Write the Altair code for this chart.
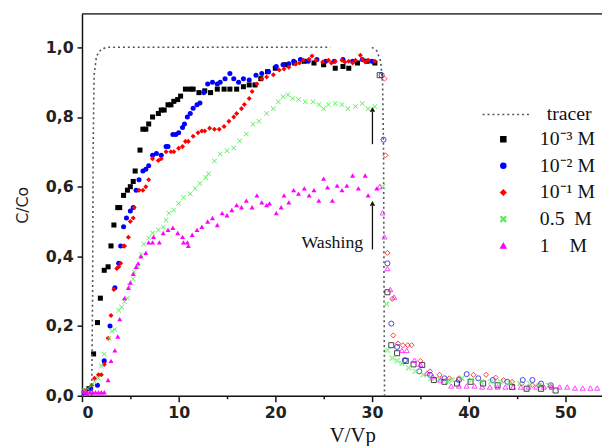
import altair as alt
import pandas as pd

# ---------------- data ----------------
SERIES = ["10\u207b\u00b3 M", "10\u207b\u00b2 M", "10\u207b\u00b9 M", "0.5\u00a0\u00a0M", "1\u00a0\u00a0\u00a0\u00a0M"]
COLORS = ["#000000", "#0000ff", "#ff0000", "#55ee55", "#ff00ff"]
XPATH = "M-1,-0.8L-0.8,-1L0,-0.2L0.8,-1L1,-0.8L0.2,0L1,0.8L0.8,1L0,0.2L-0.8,1L-1,0.8L-0.2,0Z"
SHAPES = ["square", "circle", "diamond", XPATH, "triangle-up"]
SIZES = [26, 26, 45, 45, 45]

black_fill = [(0.3,0.01),(0.7,0.02),(1.2,0.12),(1.6,0.21),(1.9,0.28),(2.3,0.36),(2.7,0.37),(3.0,0.43),
              (3.3,0.49),(3.7,0.54),(3.9,0.54),(4.3,0.575),(4.7,0.59),(5.0,0.60),(5.3,0.615),(5.5,0.645),
              (6.0,0.705),(6.3,0.765),(6.6,0.765),(6.9,0.78),(7.3,0.80),(7.9,0.81),(8.2,0.82),(8.5,0.82),
              (8.9,0.835),(9.2,0.835),(9.5,0.845),(9.9,0.85),(10.2,0.86),(10.7,0.88),(11.2,0.88),(11.5,0.88),
              (12.1,0.87),(12.7,0.875),(13.3,0.87),(14.0,0.88),(14.7,0.88),(15.3,0.88),(16.0,0.88),(16.7,0.887),
              (17.3,0.892),(17.9,0.892),(18.5,0.91),(19.2,0.93),(20.0,0.94),(21.0,0.95),(22.0,0.955),(23.0,0.96),
              (24.0,0.955),(25.0,0.95),(26.2,0.94),(27.0,0.945),(27.6,0.94),(28.5,0.955),(29.5,0.96),(30.3,0.955)]
blue_fill = [(0.2,0.01),(0.9,0.02),(1.6,0.03),(2.3,0.10),(2.9,0.20),(3.4,0.31),(3.8,0.38),(4.0,0.43),
             (4.3,0.485),(4.6,0.51),(5.0,0.53),(5.3,0.54),(5.6,0.59),(5.9,0.62),(6.3,0.645),(6.6,0.65),
             (6.9,0.66),(7.3,0.69),(7.7,0.695),(8.2,0.69),(8.7,0.715),(8.9,0.715),(9.4,0.75),(9.7,0.75),
             (10.0,0.755),(10.4,0.77),(10.6,0.78),(10.9,0.80),(11.2,0.81),(11.5,0.825),(11.9,0.835),(12.2,0.84),
             (12.6,0.87),(13.0,0.895),(13.5,0.90),(14.0,0.895),(14.3,0.90),(14.8,0.91),(15.3,0.925),(15.7,0.91),
             (16.2,0.90),(16.7,0.91),(17.3,0.906),(18.0,0.92),(18.6,0.925),(19.3,0.93),(20.1,0.945),(20.8,0.95),
             (21.4,0.953),(21.9,0.96),(22.6,0.965),(23.4,0.96),(24.3,0.965),(25.2,0.96),(26.1,0.96),(27.0,0.965),
             (28.0,0.96),(29.0,0.965),(30.0,0.96)]
red_fill = [(0.3,0.015),(1.0,0.03),(1.3,0.05),(1.7,0.06),(2.0,0.06),(2.3,0.09),(2.7,0.165),(3.0,0.23),
            (3.3,0.305),(3.6,0.365),(3.8,0.37),(4.0,0.38),(4.3,0.43),(4.4,0.43),(4.8,0.455),(5.0,0.50),
            (5.3,0.51),(5.4,0.54),(5.9,0.59),(6.3,0.59),(6.6,0.60),(6.9,0.62),(7.3,0.68),(7.9,0.675),
            (8.2,0.68),(8.7,0.70),(9.2,0.70),(9.5,0.70),(10.0,0.71),(10.4,0.715),(10.7,0.73),(11.0,0.73),
            (11.5,0.745),(12.0,0.755),(12.4,0.76),(12.7,0.76),(13.2,0.768),(13.7,0.765),(14.2,0.765),(14.7,0.773),
            (15.2,0.788),(15.7,0.80),(16.0,0.81),(16.5,0.824),(16.8,0.836),(17.3,0.853),(17.6,0.873),(18.1,0.895),
            (18.6,0.909),(19.1,0.915),(19.8,0.921),(20.4,0.935),(20.9,0.938),(21.4,0.943),(22.1,0.952),(22.5,0.955),
            (22.9,0.963),(23.5,0.966),(23.8,0.975),(24.2,0.963),(24.9,0.958),(25.5,0.963),(25.8,0.955),(26.2,0.96),
            (26.9,0.963),(27.2,0.958),(27.6,0.96),(28.0,0.955),(28.3,0.963),(28.8,0.977),(29.0,0.966),(29.3,0.958),
            (29.6,0.963),(30.3,0.96)]
green_fill = [(0.2,0.015),(0.6,0.02),(1.0,0.03),(1.3,0.04),(1.7,0.05),(2.0,0.085),(2.3,0.12),(2.8,0.165),
              (3.1,0.185),(3.4,0.19),(3.8,0.245),(4.1,0.255),(4.4,0.27),(4.7,0.28),(4.9,0.315),(5.3,0.335),
              (5.4,0.355),(5.8,0.37),(6.1,0.405),(6.4,0.435),(6.9,0.453),(7.3,0.467),(7.9,0.476),(8.4,0.484),
              (8.7,0.504),(9.0,0.524),(9.5,0.533),(10.0,0.552),(10.5,0.569),(11.2,0.58),(11.7,0.595),(12.2,0.609),
              (12.8,0.626),(13.1,0.637),(13.7,0.674),(14.3,0.694),(15.0,0.703),(15.7,0.711),(16.3,0.731),(17.0,0.751),
              (17.7,0.779),(18.3,0.788),(19.1,0.81),(19.8,0.824),(20.3,0.844),(20.8,0.858),(21.3,0.864),(21.8,0.853),
              (22.4,0.85),(23.1,0.844),(23.9,0.844),(24.5,0.836),(25.0,0.824),(25.5,0.836),(26.2,0.839),(26.9,0.836),
              (27.5,0.824),(28.3,0.83),(29.0,0.839),(29.6,0.824),(30.3,0.83)]
magenta_fill = [(0.2,0.01),(0.5,0.01),(0.8,0.01),(1.1,0.01),(1.4,0.01),(1.7,0.01),(2.0,0.01),(2.3,0.01),
                (2.7,0.045),(3.0,0.10),(3.4,0.13),(3.7,0.17),(3.9,0.22),(4.4,0.28),(4.8,0.31),(5.0,0.325),
                (5.3,0.35),(5.6,0.37),(5.8,0.38),(6.1,0.40),(6.6,0.41),(6.9,0.44),(7.3,0.44),(7.4,0.456),
                (8.0,0.44),(8.4,0.467),(8.9,0.476),(9.4,0.482),(9.9,0.467),(10.4,0.456),(10.5,0.44),(10.9,0.44),
                (11.0,0.43),(11.4,0.462),(11.9,0.476),(12.4,0.485),(13.0,0.50),(13.5,0.51),(14.0,0.49),(14.5,0.524),
                (15.0,0.518),(15.5,0.533),(16.0,0.547),(16.5,0.541),(17.0,0.56),(17.6,0.541),(18.1,0.575),(18.6,0.555),
                (19.1,0.547),(19.4,0.552),(20.1,0.524),(20.6,0.541),(20.9,0.575),(21.4,0.555),(21.9,0.59),(22.4,0.58),
                (23.0,0.595),(23.5,0.575),(24.0,0.59),(24.5,0.56),(25.0,0.623),(25.4,0.598),(25.9,0.56),(26.4,0.603),
                (26.9,0.59),(27.4,0.603),(28.0,0.632),(28.6,0.595),(29.3,0.632),(29.6,0.575),(30.5,0.595)]

black_wash = [(30.8,0.92),(31.6,0.297),(32.0,0.145),(32.6,0.122),(33.5,0.10),(34.3,0.09),(35.2,0.088),
              (36.4,0.045),(37.5,0.04),(38.8,0.035),(40.2,0.04),(41.5,0.035),(43.0,0.03),(44.5,0.025),
              (46.0,0.02),(47.5,0.02),(49.0,0.015)]
blue_wash = [(31.0,0.92),(31.2,0.735),(31.6,0.38),(32.0,0.207),(32.6,0.14),(33.4,0.102),(34.9,0.07),
             (36.0,0.06),(37.5,0.05),(39.0,0.045),(39.8,0.062),(41.0,0.05),(42.5,0.045),(44.0,0.04),
             (45.6,0.045),(46.6,0.045),(47.5,0.035),(48.5,0.03)]
red_wash = [(31.3,0.91),(31.4,0.69),(31.6,0.41),(32.1,0.278),(32.2,0.173),(32.7,0.15),(33.2,0.145),
            (33.7,0.145),(34.1,0.145),(35.0,0.10),(36.0,0.07),(37.0,0.06),(38.0,0.05),(39.0,0.05),
            (40.5,0.06),(41.8,0.06),(42.8,0.052),(43.6,0.045),(44.5,0.04),(45.5,0.035),(46.6,0.03),
            (47.3,0.03),(48.5,0.025)]
green_wash = [(31.1,0.60),(31.5,0.263),(31.6,0.13),(32.1,0.108),(32.6,0.10),(33.1,0.093),(33.8,0.08),
              (34.5,0.07),(35.3,0.06),(36.1,0.05),(37.0,0.048),(37.8,0.042),(38.3,0.045),(39.3,0.05),
              (40.3,0.045),(41.3,0.04),(42.3,0.04),(43.3,0.04),(44.3,0.035),(45.3,0.035),(46.3,0.035),
              (47.3,0.03),(48.3,0.03)]
magenta_wash = [(30.8,0.60),(31.1,0.525),(31.3,0.456),(31.6,0.365),(31.9,0.305),(32.3,0.283),(33.1,0.13),
                (33.6,0.13),(34.4,0.102),(35.0,0.09),(35.7,0.065),(36.3,0.055),(37.1,0.045),(38.2,0.028),
                (39.0,0.028),(39.8,0.028),(40.6,0.028),(41.4,0.025),(42.2,0.025),(43.0,0.025),(43.8,0.025),
                (44.6,0.025),(45.4,0.025),(46.2,0.025),(47.0,0.025),(47.8,0.025),(48.6,0.025),(49.4,0.025),
                (50.2,0.025),(51.0,0.022),(51.8,0.022),(52.6,0.022),(53.3,0.022)]

tracer_a = [(0.0,0.0),(1.0,0.0),(1.1,0.3),(1.15,0.7),(1.25,0.92),(1.5,0.975),(2.0,0.995),(2.6,1.0),(25.7,1.0)]
tracer_b = [(30.0,1.0),(30.5,0.99),(30.9,0.96),(31.1,0.9),(31.2,0.7),(31.25,0.3),(31.3,0.0)]

arrow_x = [30.05, 30.05]
arrow_y0 = [0.722, 0.42]
arrow_y1 = [0.815, 0.545]
arrow_tip = [0.822, 0.552]
label_text = ["Washing"]
label_x = [25.9]
label_y = [0.437]

# ---------------- build tables ----------------
fills = [black_fill, blue_fill, red_fill, green_fill, magenta_fill]
washes = [black_wash, blue_wash, red_wash, green_wash, magenta_wash]
rows = []
for s, pts in zip(SERIES, fills):
    rows += [{"x": x, "y": y, "series": s} for x, y in pts]
df_fill = pd.DataFrame(rows)
rows = []
for s, pts in zip(SERIES, washes):
    rows += [{"x": x, "y": y, "series": s} for x, y in pts]
df_wash = pd.DataFrame(rows)
df_tr = pd.DataFrame([{"x": x, "y": y, "seg": "a", "kind": "tracer"} for x, y in tracer_a] +
                     [{"x": x, "y": y, "seg": "b", "kind": "tracer"} for x, y in tracer_b])
df_arrow = pd.DataFrame({"x": arrow_x, "y": arrow_y0, "y2": arrow_y1, "tip": arrow_tip})
df_lab = pd.DataFrame({"x": label_x, "y": label_y, "t": label_text})

W, H = 527, 387
xs = alt.Scale(domain=[0, 53.8], nice=False, zero=False)
ys = alt.Scale(domain=[0, 1.096], nice=False, zero=False)
LBL = "DejaVu Sans"
SERIF = "Liberation Serif"

xaxis = alt.Axis(values=list(range(0, 55, 5)), labelExpr="datum.value % 10 === 0 ? datum.label : ''",
                 tickSize={"condition": {"test": "datum.value % 10 === 0", "value": 6}, "value": 3},
                 title="V/Vp", titleFont=SERIF, titleFontSize=21, titleFontWeight="normal", titleColor="#111",
                 titleX=274, titlePadding=4,
                 labelFont=LBL, labelFontSize=16, labelFontWeight="bold", labelColor="#222", labelPadding=3,
                 domainColor="#111", domainWidth=1.5, tickColor="#111", tickWidth=1.5, grid=False)
yaxis = alt.Axis(values=[i / 10 for i in range(11)], format=".1f",
                 labelExpr="round(datum.value*10) % 2 === 0 ? replace(datum.label, '.', ',') : ''",
                 tickSize={"condition": {"test": "round(datum.value*10) % 2 === 0", "value": 5}, "value": 3},
                 title="C/Co", titleFont=LBL, titleFontSize=16, titleFontWeight="normal", titleColor="#222",
                 titlePadding=15,
                 labelFont=LBL, labelFontSize=16, labelFontWeight="bold", labelColor="#222", labelPadding=4,
                 domainColor="#111", domainWidth=1.5, tickColor="#111", tickWidth=1.5, grid=False)

pt_legend = alt.Legend(orient="none", legendX=417, legendY=117, title=None,
                       labelFont=SERIF, labelFontSize=20, labelColor="#111",
                       symbolSize=45, rowPadding=7, labelOffset=27, padding=0)

tracer = alt.Chart(df_tr).mark_line(color="#555", strokeWidth=1.6).encode(
    x=alt.X("x:Q", scale=xs, axis=xaxis),
    y=alt.Y("y:Q", scale=ys, axis=yaxis),
    detail="seg:N",
    strokeDash=alt.StrokeDash("kind:N", scale=alt.Scale(domain=["tracer"], range=[[2, 3]]),
                              legend=alt.Legend(orient="none", legendX=405, legendY=76, title=None,
                                                symbolType="stroke", symbolSize=2500, symbolStrokeWidth=1.6,
                                                symbolStrokeColor="#555", labelFont=SERIF, labelFontSize=20,
                                                labelColor="#111", labelOffset=14, padding=0)),
)

pts_fill = alt.Chart(df_fill).mark_point(filled=True, opacity=1).encode(
    x=alt.X("x:Q", scale=xs),
    y=alt.Y("y:Q", scale=ys),
    color=alt.Color("series:N", scale=alt.Scale(domain=SERIES, range=COLORS), legend=pt_legend),
    shape=alt.Shape("series:N", scale=alt.Scale(domain=SERIES, range=SHAPES), legend=pt_legend),
    size=alt.Size("series:N", scale=alt.Scale(domain=SERIES, range=SIZES), legend=None),
)

pts_wash = alt.Chart(df_wash).mark_point(filled=False, strokeWidth=1, opacity=0.75).encode(
    x=alt.X("x:Q", scale=xs),
    y=alt.Y("y:Q", scale=ys),
    color=alt.Color("series:N", scale=alt.Scale(domain=SERIES, range=COLORS), legend=pt_legend),
    shape=alt.Shape("series:N", scale=alt.Scale(domain=SERIES, range=SHAPES), legend=pt_legend),
    size=alt.Size("series:N", scale=alt.Scale(domain=SERIES, range=SIZES), legend=None),
)

arrows = alt.Chart(df_arrow).mark_rule(color="#111", strokeWidth=1.3).encode(
    x=alt.X("x:Q", scale=xs), y=alt.Y("y:Q", scale=ys), y2="y2:Q")
heads = alt.Chart(df_arrow).mark_point(shape="triangle-up", filled=True, color="#111", size=30, opacity=1).encode(
    x=alt.X("x:Q", scale=xs), y=alt.Y("tip:Q", scale=ys))
label = alt.Chart(df_lab).mark_text(font=SERIF, fontSize=18, color="#111", align="center", baseline="middle").encode(
    x=alt.X("x:Q", scale=xs), y=alt.Y("y:Q", scale=ys), text="t:N")
topline = alt.Chart(df_lab).mark_rule(color="#111", strokeWidth=1.5).encode(
    x=alt.value(0), x2=alt.value(W), y=alt.value(0))

chart = alt.layer(pts_fill, tracer, pts_wash, arrows, heads, label, topline).properties(
    width=W, height=H,
    padding={"left": 75, "top": 3, "right": 0, "bottom": 48},
    autosize=alt.AutoSizeParams(type="none"),
).configure_view(stroke=None).configure(background="white")

chart.save("out.html", embed_options={"renderer": "svg", "actions": False})
